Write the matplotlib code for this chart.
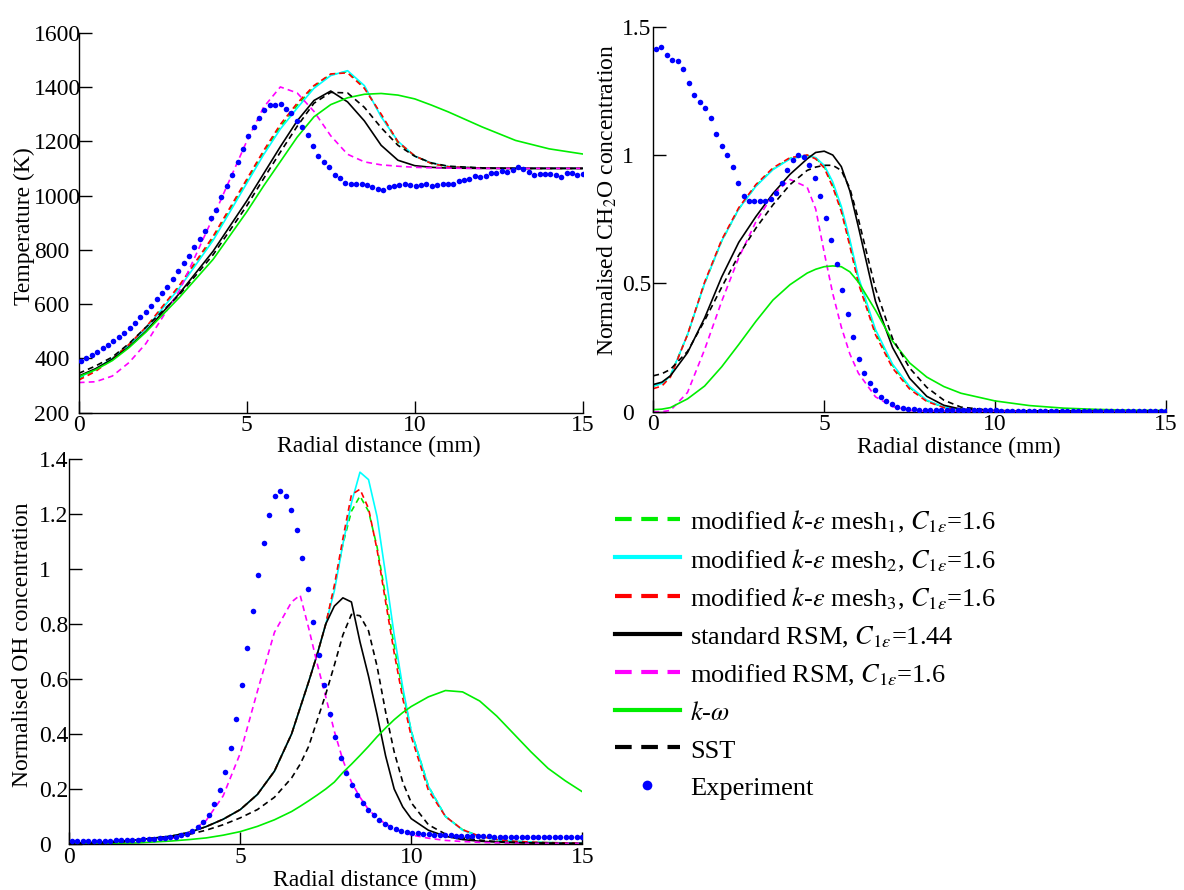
import numpy as np
import matplotlib
matplotlib.use('Agg')
import matplotlib.pyplot as plt
from matplotlib.lines import Line2D
from matplotlib.ticker import FormatStrFormatter

plt.rcParams['font.family'] = ['Liberation Serif', 'DejaVu Serif']
plt.rcParams['mathtext.fontset'] = 'stix'
plt.rcParams['font.size'] = 17

# ---- experiment sample positions (mm), same for all three panels
exp_x = np.linspace(0.07, 15.0, 94)

# ---- temperature (K)
temp_x = [0, 0.5, 1, 1.5, 2, 3, 4, 5, 5.5, 6, 6.5, 7, 7.5, 8, 8.5, 9, 9.5, 10, 10.5, 11, 12, 13, 14, 15]
temp_mesh1 = [325, 358, 400, 452, 512, 665, 842, 1052, 1157, 1253, 1332, 1400, 1446, 1456, 1400, 1295, 1195, 1146, 1118, 1106, 1101, 1100, 1100, 1100]
temp_mesh2 = [329, 360, 400, 450, 510, 660, 835, 1045, 1150, 1245, 1322, 1395, 1442, 1460, 1405, 1290, 1200, 1145, 1120, 1107, 1101, 1100, 1100, 1100]
temp_mesh3 = [320, 352, 398, 452, 515, 670, 850, 1060, 1165, 1262, 1340, 1405, 1448, 1452, 1395, 1300, 1198, 1146, 1118, 1106, 1101, 1100, 1100, 1100]
temp_rsm = [335, 362, 397, 443, 500, 640, 795, 980, 1080, 1180, 1275, 1350, 1385, 1345, 1275, 1185, 1130, 1110, 1104, 1101, 1100, 1100, 1100, 1100]
temp_mod_rsm = [311, 314, 335, 385, 455, 650, 920, 1200, 1325, 1400, 1378, 1310, 1220, 1152, 1124, 1113, 1108, 1104, 1102, 1101, 1100, 1100, 1100, 1100]
temp_kw = [333, 358, 392, 440, 497, 625, 765, 940, 1035, 1125, 1215, 1290, 1335, 1360, 1373, 1376, 1370, 1356, 1333, 1308, 1253, 1203, 1172, 1153]
temp_sst = [345, 372, 405, 455, 515, 635, 782, 962, 1062, 1160, 1255, 1340, 1380, 1378, 1325, 1250, 1185, 1145, 1120, 1108, 1102, 1100, 1100, 1100]
temp_exp = [390, 400, 412, 425, 437, 449, 465, 480, 495, 511,
            529, 551, 571, 593, 620, 640, 664, 692, 723, 750,
            778, 809, 839, 870, 916, 947, 993, 1035, 1074, 1125,
            1170, 1219, 1254, 1284, 1315, 1335, 1335, 1337, 1320, 1303,
            1276, 1254, 1223, 1182, 1146, 1122, 1104, 1076, 1066, 1047,
            1041, 1041, 1041, 1039, 1033, 1023, 1020, 1030, 1036, 1040,
            1041, 1040, 1036, 1040, 1041, 1036, 1040, 1042, 1044, 1044,
            1053, 1057, 1061, 1072, 1070, 1073, 1082, 1082, 1092, 1088,
            1094, 1104, 1096, 1088, 1077, 1078, 1078, 1078, 1074, 1070,
            1082, 1084, 1074, 1079]

# ---- normalised CH2O
ch2o_x = [0, 0.25, 0.5, 1, 1.5, 2, 2.5, 3, 3.5, 4, 4.5, 4.75, 5, 5.25, 5.5, 5.75, 6, 6.5, 7, 7.5, 8, 8.5, 9, 10, 11, 12, 13, 14, 15]
ch2o_mesh1 = [0.10, 0.11, 0.14, 0.30, 0.50, 0.665, 0.79, 0.88, 0.945, 0.987, 0.999, 0.988, 0.955, 0.885, 0.79, 0.66, 0.515, 0.31, 0.18, 0.094, 0.043, 0.017, 0.008, 0.004, 0.003, 0.003, 0.003, 0.003, 0.003]
ch2o_mesh2 = [0.10, 0.11, 0.14, 0.30, 0.50, 0.665, 0.79, 0.878, 0.943, 0.985, 0.998, 0.99, 0.96, 0.895, 0.80, 0.67, 0.525, 0.32, 0.185, 0.098, 0.045, 0.018, 0.008, 0.004, 0.003, 0.003, 0.003, 0.003, 0.003]
ch2o_mesh3 = [0.09, 0.10, 0.135, 0.30, 0.505, 0.67, 0.795, 0.885, 0.95, 0.99, 1.0, 0.985, 0.95, 0.875, 0.78, 0.645, 0.50, 0.30, 0.17, 0.088, 0.04, 0.016, 0.007, 0.004, 0.003, 0.003, 0.003, 0.003, 0.003]
ch2o_rsm = [0.106, 0.115, 0.14, 0.23, 0.365, 0.525, 0.66, 0.76, 0.85, 0.925, 0.985, 1.01, 1.015, 1.0, 0.955, 0.86, 0.72, 0.43, 0.25, 0.13, 0.06, 0.025, 0.01, 0.004, 0.003, 0.003, 0.003, 0.003, 0.003]
ch2o_mod_rsm = [0.0, 0.0, 0.005, 0.075, 0.242, 0.43, 0.60, 0.74, 0.845, 0.905, 0.875, 0.79, 0.62, 0.46, 0.33, 0.225, 0.15, 0.058, 0.02, 0.005, 0.002, 0.002, 0.002, 0.002, 0.002, 0.002, 0.002, 0.002, 0.002]
ch2o_kw = [0.008, 0.01, 0.016, 0.05, 0.10, 0.175, 0.262, 0.352, 0.435, 0.495, 0.54, 0.555, 0.565, 0.568, 0.565, 0.545, 0.505, 0.395, 0.275, 0.19, 0.135, 0.098, 0.072, 0.042, 0.024, 0.014, 0.009, 0.006, 0.005]
ch2o_sst = [0.14, 0.148, 0.165, 0.235, 0.355, 0.485, 0.61, 0.715, 0.806, 0.885, 0.94, 0.953, 0.96, 0.96, 0.94, 0.87, 0.75, 0.48, 0.285, 0.17, 0.095, 0.045, 0.018, 0.004, 0.003, 0.003, 0.003, 0.003, 0.003]
ch2o_exp = [1.415, 1.422, 1.39, 1.37, 1.366, 1.335, 1.279, 1.234, 1.208, 1.185,
            1.143, 1.081, 1.037, 1.001, 0.953, 0.893, 0.841, 0.822, 0.822, 0.822,
            0.822, 0.828, 0.854, 0.893, 0.942, 0.981, 0.999, 0.994, 0.962, 0.910,
            0.839, 0.753, 0.670, 0.577, 0.476, 0.382, 0.290, 0.206, 0.149, 0.113,
            0.084, 0.058, 0.041, 0.029, 0.019, 0.016, 0.012, 0.010, 0.008, 0.007,
            0.006, 0.006, 0.005, 0.005, 0.005, 0.005, 0.005, 0.005, 0.005, 0.005,
            0.005, 0.005, 0.005, 0.004, 0.004, 0.004, 0.004, 0.004, 0.004, 0.004,
            0.004, 0.004, 0.004, 0.004, 0.004, 0.004, 0.004, 0.004, 0.004, 0.004,
            0.004, 0.004, 0.004, 0.004, 0.004, 0.004, 0.004, 0.004, 0.004, 0.004,
            0.004, 0.004, 0.004, 0.004]

# ---- normalised OH
oh_x = [0, 1, 2, 3, 3.5, 4, 4.5, 5, 5.5, 6, 6.5, 6.75, 7, 7.25, 7.5, 7.75, 8, 8.25, 8.5, 8.75,
        9, 9.25, 9.5, 9.75, 10, 10.5, 11, 11.5, 12, 12.5, 13, 13.5, 14, 14.5, 15]
oh_mesh1 = [0.003, 0.006, 0.015, 0.029, 0.042, 0.063, 0.09, 0.125, 0.18, 0.265, 0.40, 0.495, 0.59, 0.69, 0.80, 0.93, 1.09, 1.21, 1.265, 1.21,
            1.08, 0.9, 0.72, 0.555, 0.41, 0.21, 0.1, 0.052, 0.028, 0.016, 0.01, 0.007, 0.005, 0.004, 0.003]
oh_mesh2 = [0.003, 0.006, 0.015, 0.029, 0.042, 0.063, 0.09, 0.125, 0.18, 0.265, 0.40, 0.495, 0.59, 0.69, 0.80, 0.92, 1.09, 1.24, 1.352, 1.325,
            1.19, 0.98, 0.76, 0.57, 0.41, 0.21, 0.1, 0.05, 0.028, 0.016, 0.01, 0.007, 0.005, 0.004, 0.003]
oh_mesh3 = [0.003, 0.006, 0.015, 0.029, 0.042, 0.063, 0.09, 0.125, 0.18, 0.265, 0.40, 0.495, 0.59, 0.69, 0.80, 0.94, 1.11, 1.27, 1.29, 1.22,
            1.07, 0.88, 0.695, 0.53, 0.39, 0.195, 0.1, 0.052, 0.028, 0.016, 0.01, 0.007, 0.005, 0.004, 0.003]
oh_rsm = [0.003, 0.006, 0.015, 0.029, 0.042, 0.063, 0.09, 0.125, 0.18, 0.265, 0.40, 0.495, 0.59, 0.69, 0.80, 0.865, 0.895, 0.88, 0.735, 0.61,
          0.47, 0.32, 0.2, 0.135, 0.092, 0.05, 0.028, 0.016, 0.01, 0.007, 0.005, 0.004, 0.003, 0.002, 0.002]
oh_mod_rsm = [0.001, 0.002, 0.006, 0.02, 0.04, 0.085, 0.175, 0.33, 0.555, 0.77, 0.88, 0.905, 0.785, 0.655, 0.535, 0.41, 0.305, 0.225, 0.17, 0.125,
              0.095, 0.073, 0.056, 0.043, 0.033, 0.021, 0.013, 0.009, 0.006, 0.004, 0.003, 0.002, 0.002, 0.002, 0.002]
oh_kw = [0.0, 0.002, 0.004, 0.011, 0.016, 0.022, 0.032, 0.045, 0.064, 0.088, 0.118, 0.137, 0.157, 0.178, 0.2, 0.225, 0.26, 0.29, 0.322, 0.355,
         0.39, 0.422, 0.452, 0.478, 0.5, 0.535, 0.558, 0.553, 0.52, 0.465, 0.4, 0.335, 0.275, 0.23, 0.19]
oh_sst = [0.002, 0.004, 0.011, 0.025, 0.035, 0.05, 0.07, 0.095, 0.125, 0.17, 0.24, 0.29, 0.355, 0.45, 0.545, 0.65, 0.76, 0.835, 0.83, 0.775,
          0.646, 0.48, 0.335, 0.225, 0.15, 0.07, 0.036, 0.022, 0.014, 0.009, 0.006, 0.004, 0.003, 0.002, 0.002]
oh_exp = [0.010, 0.010, 0.010, 0.010, 0.010, 0.011, 0.011, 0.012, 0.013, 0.013,
          0.014, 0.015, 0.016, 0.017, 0.018, 0.019, 0.021, 0.023, 0.025, 0.026,
          0.031, 0.038, 0.048, 0.063, 0.079, 0.107, 0.146, 0.195, 0.262, 0.348,
          0.454, 0.578, 0.713, 0.849, 0.978, 1.095, 1.195, 1.265, 1.283, 1.265,
          1.216, 1.140, 1.040, 0.927, 0.807, 0.689, 0.577, 0.473, 0.388, 0.313,
          0.259, 0.213, 0.178, 0.149, 0.124, 0.104, 0.088, 0.073, 0.063, 0.055,
          0.049, 0.045, 0.041, 0.039, 0.037, 0.035, 0.034, 0.033, 0.032, 0.031,
          0.030, 0.030, 0.029, 0.029, 0.028, 0.028, 0.028, 0.027, 0.027, 0.027,
          0.026, 0.026, 0.026, 0.026, 0.025, 0.025, 0.025, 0.025, 0.025, 0.024,
          0.024, 0.024, 0.024, 0.024]

labels = [
    'modified $k$-$\\varepsilon$ mesh$_1$, $C_{1\\varepsilon}$=1.6',
    'modified $k$-$\\varepsilon$ mesh$_2$, $C_{1\\varepsilon}$=1.6',
    'modified $k$-$\\varepsilon$ mesh$_3$, $C_{1\\varepsilon}$=1.6',
    'standard RSM, $C_{1\\varepsilon}$=1.44',
    'modified RSM, $C_{1\\varepsilon}$=1.6',
    '$k$-$\\omega$',
    'SST',
    'Experiment',
]
# (colour, dashed?) for the seven model curves, in legend order
styles = [('#00ee00', True), ('#00ffff', False), ('#ff0000', True), ('#000000', False),
          ('#ff00ff', True), ('#00ee00', False), ('#000000', True)]
exp_color = '#0000ff'


def draw_panel(ax, x, models, ex, ey):
    for y, (color, dashed) in zip(models, styles):
        if dashed:
            ax.plot(x, y, color=color, lw=1.2, dashes=(3.5, 2.5))
        else:
            ax.plot(x, y, color=color, lw=1.2)
    ax.plot(ex, ey, 'o', color=exp_color, ms=4, mec='none', zorder=5)


def style_axes(ax, ylim, yticks, ylabel, ylab_pos, xlab_y, ypad):
    ax.set_xlim(0, 15)
    ax.set_ylim(*ylim)
    ax.set_xticks([0, 5, 10, 15])
    ax.set_yticks(yticks)
    ax.yaxis.set_major_formatter(FormatStrFormatter('%g'))
    for side in ['top', 'right']:
        ax.spines[side].set_visible(False)
    for side in ['left', 'bottom']:
        ax.spines[side].set_linewidth(1.0)
    ax.tick_params(direction='in', length=9, width=1.0, labelsize=17)
    # y tick labels are left aligned, grace style
    ax.tick_params(axis='y', pad=ypad)
    for lab in ax.get_yticklabels():
        lab.set_ha('left')
    ax.tick_params(axis='x', pad=2)
    ax.set_xlabel('Radial distance (mm)', fontsize=17, va='center')
    ax.xaxis.set_label_coords(0.595, xlab_y)
    ax.set_ylabel(ylabel, fontsize=17, va='center')
    ax.yaxis.set_label_coords(*ylab_pos)


fig = plt.figure(figsize=(11.84, 8.9), dpi=100)
ax_t = fig.add_axes([0.0665, 0.5363, 0.4257, 0.427])
ax_c = fig.add_axes([0.5518, 0.5374, 0.433, 0.4326])
ax_o = fig.add_axes([0.0585, 0.0517, 0.4333, 0.4326])

draw_panel(ax_t, temp_x, [temp_mesh1, temp_mesh2, temp_mesh3, temp_rsm, temp_mod_rsm, temp_kw, temp_sst],
           exp_x, temp_exp)
draw_panel(ax_c, ch2o_x, [ch2o_mesh1, ch2o_mesh2, ch2o_mesh3, ch2o_rsm, ch2o_mod_rsm, ch2o_kw, ch2o_sst],
           exp_x, ch2o_exp)
draw_panel(ax_o, oh_x, [oh_mesh1, oh_mesh2, oh_mesh3, oh_rsm, oh_mod_rsm, oh_kw, oh_sst],
           exp_x, oh_exp)

style_axes(ax_t, (200, 1600), range(200, 1601, 200), 'Temperature (K)', (-0.108, 0.49), -0.09, 32)
style_axes(ax_c, (0, 1.5), [0, 0.5, 1, 1.5], 'Normalised CH$_2$O concentration', (-0.09, 0.55), -0.092, 22.5)
style_axes(ax_o, (0, 1.4), [0, 0.2, 0.4, 0.6, 0.8, 1, 1.2, 1.4], 'Normalised OH concentration', (-0.092, 0.517), -0.094, 22)

# legend with thicker handles, placed in the empty lower-right area
handles = []
for color, dashed in styles:
    if dashed:
        handles.append(Line2D([], [], color=color, lw=3, dashes=(4, 2.3)))
    else:
        handles.append(Line2D([], [], color=color, lw=3))
handles.append(Line2D([], [], color=exp_color, marker='o', ms=7, mec='none', ls='none'))

fig.legend(handles, labels, loc='upper left', bbox_to_anchor=(615 / 1184, 1 - 509 / 890),
           frameon=False, borderaxespad=0, borderpad=0, handlelength=2.46, handleheight=1.0,
           handletextpad=0.38, labelspacing=0.44, fontsize=19)

fig.savefig('out.png', dpi=100)
